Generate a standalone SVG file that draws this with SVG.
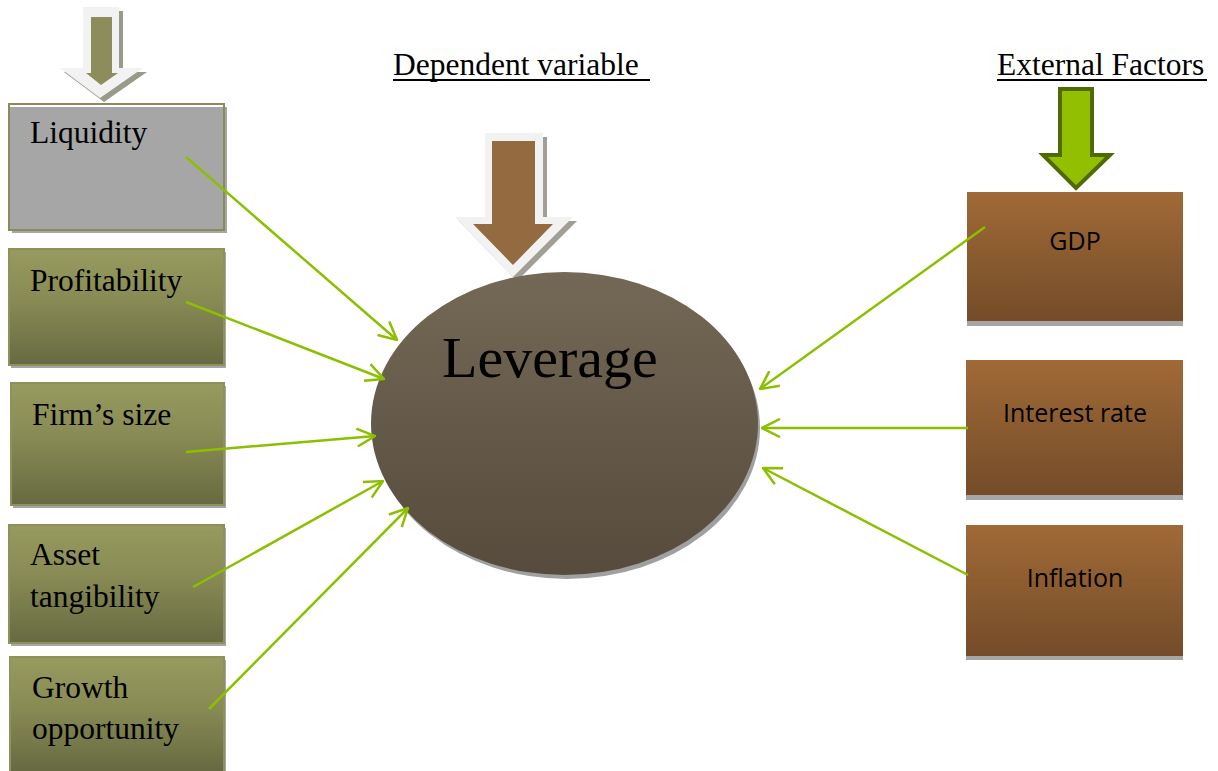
<svg xmlns="http://www.w3.org/2000/svg" width="1218" height="771" viewBox="0 0 1218 771">
<defs>
<linearGradient id="olive" x1="0" y1="0" x2="0" y2="1">
<stop offset="0" stop-color="#989b5f"/><stop offset="0.45" stop-color="#878a53"/><stop offset="1" stop-color="#676a41"/>
</linearGradient>
<linearGradient id="brown" x1="0" y1="0" x2="0" y2="1">
<stop offset="0" stop-color="#a06a36"/><stop offset="1" stop-color="#744c29"/>
</linearGradient>
<linearGradient id="oval" x1="0" y1="0" x2="0" y2="1">
<stop offset="0" stop-color="#746856"/><stop offset="1" stop-color="#564b3c"/>
</linearGradient>
<marker id="ah" viewBox="0 0 20 20" refX="19" refY="10" markerWidth="20" markerHeight="20" markerUnits="userSpaceOnUse" orient="auto">
<path d="M1,1 L19,10 L1,19" fill="none" stroke="#8cbf00" stroke-width="2.5"/>
</marker>
</defs>
<style>
.serif{font-family:"Liberation Serif","Times New Roman",serif;fill:#000}
.lbl{font-size:31.5px}
.sans{font-family:"Open Sans","Liberation Sans",sans-serif;font-size:25px;fill:#000;text-anchor:middle}
.obox{fill:url(#olive);stroke:#8e915c;stroke-width:2}
.bbox{fill:url(#brown)}
.shd{fill:#a6a6a6}
.conn{stroke:#8cbf00;stroke-width:2.5;fill:none;marker-end:url(#ah)}
</style>

<!-- headings -->
<g id="heading-dependent">
<text class="serif lbl" x="393" y="75">Dependent variable </text>
<line x1="393" y1="80" x2="650" y2="80" stroke="#000" stroke-width="2"/>
</g>
<g id="heading-external">
<text class="serif lbl" x="997" y="75">External Factors</text>
<line x1="997" y1="80" x2="1207" y2="80" stroke="#000" stroke-width="2"/>
</g>

<!-- block arrows -->
<g id="arrow-left">
<path d="M87,11 L123,11 L123,72 L147,72 L104,102 L64,72 L87,72 Z" fill="#9a9a8a"/>
<path d="M83,7 L119,7 L119,68 L143,68 L100,98 L60,68 L83,68 Z" fill="#f2f2f2"/>
<path d="M91,17 L112,17 L112,73 L118,73 L101,85 L86,73 L91,73 Z" fill="#8c8c5c"/>
</g>
<g id="arrow-center">
<path d="M489,137 L547,137 L547,221 L577,221 L517,281 L459,221 L489,221 Z" fill="#a39e95"/>
<path d="M485,133 L543,133 L543,217 L573,217 L513,277 L455,217 L485,217 Z" fill="#f2f2f2"/>
<path d="M492,141 L535,141 L535,224 L553,224 L513,265 L473,224 L492,224 Z" fill="#946a40"/>
</g>
<g id="arrow-right">
<path d="M1060,89 L1092,89 L1092,155 L1110,155 L1076,188 L1043,155 L1060,155 Z" fill="#92c000" stroke="#4f6a00" stroke-width="4" stroke-linejoin="miter"/>
</g>

<!-- central node -->
<g id="node-leverage">
<ellipse cx="567" cy="428" rx="193" ry="151" fill="#a0a0a0"/>
<ellipse cx="564.5" cy="423.5" rx="193.5" ry="151.5" fill="url(#oval)"/>
<text class="serif" x="442" y="377" font-size="58">Leverage</text>
</g>

<!-- left nodes -->
<g id="node-liquidity">
<rect x="12" y="107" width="215" height="126" class="shd"/>
<rect x="9" y="104" width="215" height="126" fill="#a6a6a6" stroke="#8a8a5c" stroke-width="2"/>
<line x1="10" y1="106" x2="223" y2="106" stroke="#fff" stroke-width="2"/>
<text class="serif lbl" x="30" y="143">Liquidity</text>
</g>
<g id="node-profitability">
<rect x="11" y="252" width="215" height="116" class="shd"/>
<rect x="9" y="249" width="215" height="116" class="obox"/>
<text class="serif lbl" x="30" y="291">Profitability</text>
</g>
<g id="node-firmsize">
<rect x="13" y="386" width="213" height="122" class="shd"/>
<rect x="11" y="383" width="213" height="122" class="obox"/>
<text class="serif lbl" x="32" y="425">Firm’s size</text>
</g>
<g id="node-asset">
<rect x="11" y="528" width="215" height="118" class="shd"/>
<rect x="9" y="525" width="215" height="118" class="obox"/>
<text class="serif lbl" x="30" y="565">Asset</text>
<text class="serif lbl" x="30" y="607">tangibility</text>
</g>
<g id="node-growth">
<rect x="12" y="660" width="214" height="115" class="shd"/>
<rect x="10" y="657" width="214" height="115" class="obox"/>
<text class="serif lbl" x="32" y="698">Growth</text>
<text class="serif lbl" x="32" y="739">opportunity</text>
</g>

<!-- right nodes -->
<g id="node-gdp">
<rect x="967" y="192" width="216" height="134" class="shd"/>
<rect x="967" y="192" width="216" height="129" class="bbox"/>
<text class="sans" x="1075" y="250">GDP</text>
</g>
<g id="node-interest">
<rect x="966" y="360" width="217" height="140" class="shd"/>
<rect x="966" y="360" width="217" height="135" class="bbox"/>
<text class="sans" x="1075" y="422">Interest rate</text>
</g>
<g id="node-inflation">
<rect x="966" y="525" width="217" height="135" class="shd"/>
<rect x="966" y="525" width="217" height="131" class="bbox"/>
<text class="sans" x="1075" y="587">Inflation</text>
</g>

<!-- connectors -->
<g id="connectors">
<line class="conn" x1="186" y1="157" x2="397" y2="340"/>
<line class="conn" x1="186" y1="302" x2="384" y2="379"/>
<line class="conn" x1="186" y1="452" x2="375" y2="436"/>
<line class="conn" x1="193" y1="587" x2="383" y2="481"/>
<line class="conn" x1="209" y1="709" x2="408" y2="508"/>
<line class="conn" x1="985" y1="227" x2="760" y2="389"/>
<line class="conn" x1="968" y1="428" x2="762" y2="428"/>
<line class="conn" x1="968" y1="575" x2="763" y2="468"/>
</g>
</svg>
